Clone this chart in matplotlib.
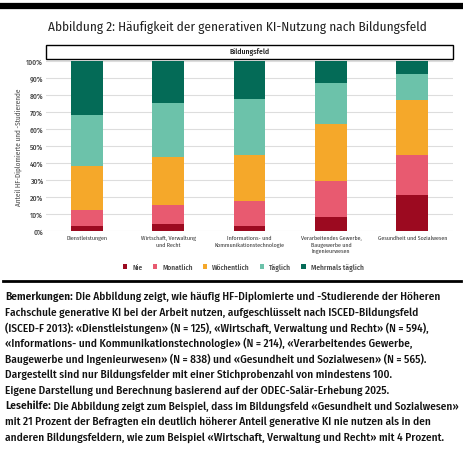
import matplotlib
matplotlib.use("Agg")
import matplotlib.pyplot as plt
import numpy as np

FONT = ['Fira Sans Condensed', 'DejaVu Sans']
plt.rcParams['font.family'] = FONT

# Daten (Anteile in %)
felder = ['Dienstleistungen', 'Wirtschaft, Verwaltung\nund Recht',
          'Informations- und\nKommunikationstechnologie',
          'Verarbeitendes Gewerbe,\nBaugewerbe und\nIngenieurwesen',
          'Gesundheit und Sozialwesen']
nie = [3, 4, 3, 8.5, 21]
monatlich = [9.5, 11.5, 14.5, 21, 23.5]
woechentlich = [25.5, 28, 27, 33.5, 32.5]
taeglich = [30, 32, 33, 24, 15.5]
mehrmals = [32, 24.5, 22.5, 13, 7.5]

serien = [nie, monatlich, woechentlich, taeglich, mehrmals]
namen = ['Nie', 'Monatlich', 'Wöchentlich', 'Täglich', 'Mehrmals täglich']
farben = ['#9c0a20', '#e85a70', '#f5a82a', '#6cc2aa', '#046b57']

fig = plt.figure(figsize=(4.64, 4.52), dpi=100)
renderer = fig.canvas.get_renderer()


def fit_text(xf, yf, s, breite_px, size, **kw):
    """Text setzen und Schriftgrösse an die Zielbreite anpassen"""
    t = fig.text(xf, yf, s, fontsize=size, **kw)
    w = t.get_window_extent(renderer).width
    t.set_fontsize(size * breite_px / w)
    return t


# schwarze Balken oben und unten
fig.add_artist(plt.Line2D([3/464, 461/464], [1-7/452, 1-7/452], color='black', lw=4.5))
fig.add_artist(plt.Line2D([3/464, 461/464], [1-281.5/452, 1-281.5/452], color='black', lw=2))

fit_text(237/464, 1-27/452, 'Abbildung 2: Häufigkeit der generativen KI-Nutzung nach Bildungsfeld',
         378, 10, ha='center', va='center', color='#222222')

# Kasten "Bildungsfeld"
box = plt.Rectangle((46/464, 1-59.5/452), 407/464, 14/452, transform=fig.transFigure,
                    fill=False, edgecolor='black', lw=1)
fig.add_artist(box)
fig.text((46+453)/2/464, 1-52.5/452, 'Bildungsfeld', ha='center', va='center',
         fontsize=5.5, color='#222222', fontweight='medium')

ax = fig.add_axes([46/464, 1-232/452, 407/464, 170/452])
x = np.arange(len(felder))
unten = np.zeros(len(felder))
for werte, name, farbe in zip(serien, namen, farben):
    ax.bar(x, werte, width=0.39, bottom=unten, color=farbe, label=name, zorder=3)
    unten += np.array(werte)

ax.set_xlim(-0.5, len(felder) - 0.5)
ax.set_ylim(0, 100)
ax.set_yticks(np.arange(0, 101, 10))
ax.set_yticklabels([f'{v}%' for v in range(0, 101, 10)], fontsize=5.4, color='#444444',
                   fontweight='medium')
ax.yaxis.grid(True, color='#dddddd', lw=0.8, zorder=0)
ax.tick_params(axis='y', length=0, pad=2)
ax.tick_params(axis='x', length=0, pad=3)
ax.set_xticks(x)
ax.set_xticklabels(felder, fontsize=4.3, color='#333333', linespacing=1.25)
for s in ax.spines.values():
    s.set_visible(False)
ax.set_ylabel('Anteil HF-Diplomierte und -Studierende', fontsize=5.1, color='#444444',
              labelpad=3)

ax.legend(loc='center', bbox_to_anchor=(0.485, -0.212), ncol=5, frameon=False,
          handlelength=0.6, handleheight=0.6, columnspacing=1.35,
          handletextpad=0.7, prop={'family': FONT, 'size': 5.3, 'weight': 'medium'},
          labelcolor='#444444')

# Bemerkungen
zeilen = [
    ('Bemerkungen:', ' Die Abbildung zeigt, wie häufig HF-Diplomierte und -Studierende der Höheren'),
    ('', 'Fachschule generative KI bei der Arbeit nutzen, aufgeschlüsselt nach ISCED-Bildungsfeld'),
    ('', '(ISCED-F 2013): «Dienstleistungen» (N = 125), «Wirtschaft, Verwaltung und Recht» (N = 594),'),
    ('', '«Informations- und Kommunikationstechnologie» (N = 214), «Verarbeitendes Gewerbe,'),
    ('', 'Baugewerbe und Ingenieurwesen» (N = 838) und «Gesundheit und Sozialwesen» (N = 565).'),
    ('', 'Dargestellt sind nur Bildungsfelder mit einer Stichprobenzahl von mindestens 100.'),
    ('', 'Eigene Darstellung und Berechnung basierend auf der ODEC-Salär-Erhebung 2025.'),
    ('Lesehilfe:', ' Die Abbildung zeigt zum Beispiel, dass im Bildungsfeld «Gesundheit und Sozialwesen»'),
    ('', 'mit 21 Prozent der Befragten ein deutlich höherer Anteil generative KI nie nutzen als in den'),
    ('', 'anderen Bildungsfeldern, wie zum Beispiel «Wirtschaft, Verwaltung und Recht» mit 4 Prozent.'),
]

# Schriftgrösse an die Breite der letzten Zeile anpassen
probe = fig.text(0, 0, zeilen[-1][1], fontsize=9, fontweight='medium')
groesse = 9 * 438 / probe.get_window_extent(renderer).width
probe.remove()

y0 = 297
for i, (fett, rest) in enumerate(zeilen):
    y = 1 - (y0 + i * 15.6) / 452
    x0 = 5 / 464
    if fett:
        t = fig.text(x0, y, fett, fontsize=groesse, fontweight='semibold', va='center', color='#111111')
        x0 = t.get_window_extent(renderer).x1 / fig.bbox.width
    fig.text(x0, y, rest, fontsize=groesse, fontweight='medium', va='center', color='#111111')

fig.savefig('out.png', dpi=100)
